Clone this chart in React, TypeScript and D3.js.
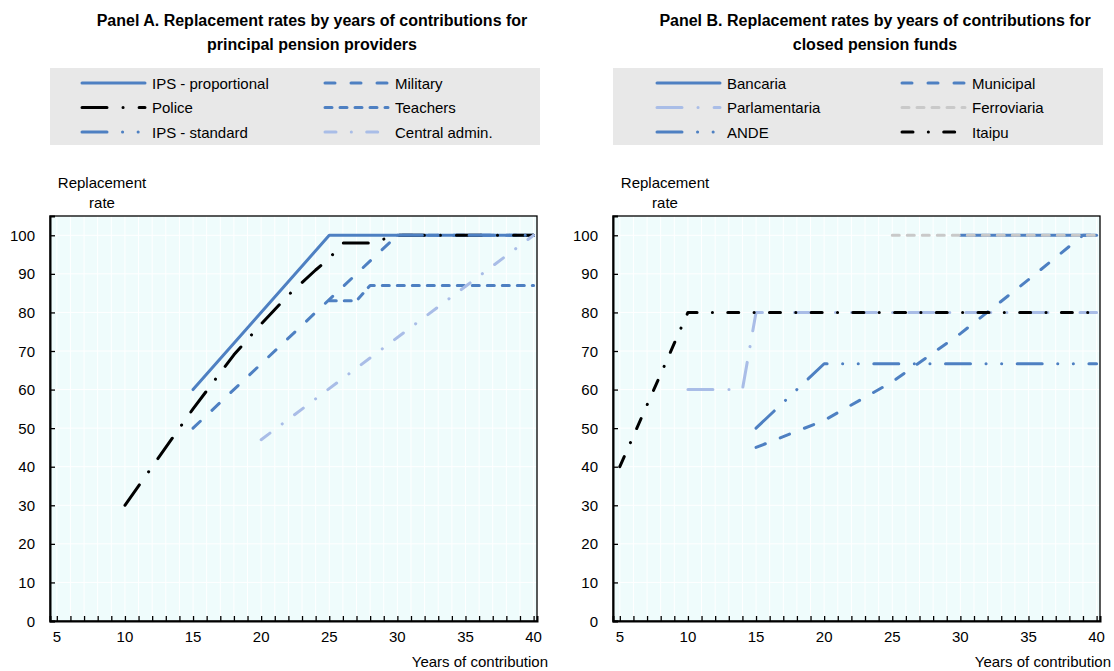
import React, { createRef, Component } from 'react';
import * as d3 from 'd3';

// Panel A - principal pension providers, [years of contribution, replacement rate]
const ipsProportional = [[15, 60], [25, 100], [40, 100]];
const military = [[15, 50], [30, 100], [40, 100]];
const police = [[10, 30], [15, 55], [18, 69], [20, 77], [22, 84.5], [24, 91], [25, 94], [26, 98], [28, 98], [30, 100], [40, 100]];
const teachers = [[25, 83], [27, 83], [28, 87], [40, 87]];
const ipsStandard = [[30, 100], [35, 100], [40, 100]];
const centralAdmin = [[20, 47], [40, 100]];

// Panel B - closed pension funds
const bancaria = [[30, 100], [40, 100]];
const municipal = [[15, 45], [20, 52], [25, 62], [30, 74.5], [35, 88.5], [39, 100], [40, 100]];
const parlamentaria = [[10, 60], [14, 60], [15, 80], [40, 80]];
const ferroviaria = [[25, 100], [40, 100]];
const ande = [[15, 50], [20, 66.7], [40, 66.7]];
const itaipu = [[5, 40], [10, 80], [40, 80]];

const yearTicks = [5, 10, 15, 20, 25, 30, 35, 40];
const rateTicks = [0, 10, 20, 30, 40, 50, 60, 70, 80, 90, 100];

const titleA = ['Panel A. Replacement rates by years of contributions for', 'principal pension providers'];
const titleB = ['Panel B. Replacement rates by years of contributions for', 'closed pension funds'];

// colours and dash patterns (line width 3, round caps)
const BLUE = '#4e80c2';
const LIGHT = '#a9bde7';
const GREY = '#c9c9c9';
const SOLID = null;
const LONG_DASH = '10,16';
const SHORT_DASH = '7,8';
const LONG_DASH_DOT = '25,16,0.1,16';
const DASH_DOT = '11,15.3,0.1,15.3';
const LONG_DASH_DOT_DOT = '25,15.5,0.1,15.5,0.1,15.5';

const FONT = '"Liberation Sans", Arial, sans-serif';

class App extends Component {
    ref = createRef<SVGSVGElement>();

    componentDidMount() {
        this.draw();
    }

    drawPanel(svg, left, title, series, legendCols) {
        var width = 487;
        var top = 216;
        var bottom = 621;

        var x = d3.scaleLinear().domain([4.5, 40.25]).range([left, left + width]);
        var y = d3.scaleLinear().domain([0, 105]).range([bottom, top]);

        var g = svg.append('g').style('font-family', FONT).style('font-size', '15px');

        // title
        var t = g.append('text')
            .attr('x', left + 262)
            .attr('text-anchor', 'middle')
            .style('font-weight', 'bold')
            .style('font-size', '16px');
        title.forEach((line, i) => {
            t.append('tspan').attr('x', left + 262).attr('y', 26 + i * 24).text(line);
        });

        // legend box
        g.append('rect')
            .attr('x', left).attr('y', 68)
            .attr('width', 490).attr('height', 77)
            .attr('fill', '#e8e8e8');
        series.forEach((s, i) => {
            var col = i % 2;
            var row = Math.floor(i / 2);
            var lx = left + legendCols[col];
            var ly = 83 + row * 24.5;
            g.append('line')
                .attr('x1', lx).attr('x2', lx + 63)
                .attr('y1', ly).attr('y2', ly)
                .attr('stroke', s.color)
                .attr('stroke-width', 3)
                .attr('stroke-linecap', 'round')
                .attr('stroke-dasharray', s.dash);
            g.append('text')
                .attr('x', lx + 70).attr('y', ly + 5.5)
                .text(s.name);
        });

        // plot background + grid
        g.append('rect')
            .attr('x', left).attr('y', top)
            .attr('width', width).attr('height', bottom - top)
            .attr('fill', '#effcfc');
        var years = d3.range(5, 41);
        g.selectAll('.vgrid').data(years).enter().append('line')
            .attr('x1', d => x(d)).attr('x2', d => x(d))
            .attr('y1', top).attr('y2', bottom)
            .attr('stroke', '#ffffff').attr('stroke-width', 1);
        g.selectAll('.hgrid').data(rateTicks.slice(1)).enter().append('line')
            .attr('x1', left).attr('x2', left + width)
            .attr('y1', d => y(d)).attr('y2', d => y(d))
            .attr('stroke', '#ffffff').attr('stroke-width', 1);

        // lines
        var line = d3.line().x(d => x(d[0])).y(d => y(d[1]));
        series.forEach(s => {
            g.append('path')
                .attr('d', line(s.data))
                .attr('fill', 'none')
                .attr('stroke', s.color)
                .attr('stroke-width', 3)
                .attr('stroke-linecap', 'round')
                .attr('stroke-linejoin', 'round')
                .attr('stroke-dasharray', s.dash);
        });

        // frame
        g.append('rect')
            .attr('x', left).attr('y', top)
            .attr('width', width).attr('height', bottom - top)
            .attr('fill', 'none').attr('stroke', '#000').attr('stroke-width', 1.3);

        // axes
        var xAxis = d3.axisBottom(x).tickValues(years).tickSize(-5).tickFormat(() => '');
        g.append('g').attr('transform', 'translate(0,' + bottom + ')').call(xAxis)
            .call(a => a.select('.domain').attr('stroke-width', 2))
            .call(a => a.selectAll('.tick line').attr('stroke-width', 1.3));
        g.selectAll('.xlab').data(yearTicks).enter().append('text')
            .attr('x', d => x(d)).attr('y', 642)
            .attr('text-anchor', 'middle')
            .text(d => d);

        var yAxis = d3.axisLeft(y).tickValues(rateTicks).tickSize(-5).tickFormat(() => '');
        g.append('g').attr('transform', 'translate(' + left + ',0)').call(yAxis)
            .call(a => a.select('.domain').attr('stroke-width', 2))
            .call(a => a.selectAll('.tick line').attr('stroke-width', 1.3));
        g.selectAll('.ylab').data(rateTicks).enter().append('text')
            .attr('x', left - 15).attr('y', d => y(d) + 5.5)
            .attr('text-anchor', 'end')
            .text(d => d);

        // axis titles
        g.append('text').attr('x', left + 52).attr('y', 188).attr('text-anchor', 'middle').text('Replacement');
        g.append('text').attr('x', left + 52).attr('y', 208).attr('text-anchor', 'middle').text('rate');
        g.append('text').attr('x', left + width + 11).attr('y', 667).attr('text-anchor', 'end').text('Years of contribution');
    }

    draw() {
        var svg = d3.select(this.ref.current);
        svg.selectAll('*').remove();

        var seriesA = [
            { name: 'IPS - proportional', data: ipsProportional, color: BLUE, dash: SOLID },
            { name: 'Military', data: military, color: BLUE, dash: LONG_DASH },
            { name: 'Police', data: police, color: '#000000', dash: LONG_DASH_DOT },
            { name: 'Teachers', data: teachers, color: BLUE, dash: SHORT_DASH },
            { name: 'IPS - standard', data: ipsStandard, color: BLUE, dash: LONG_DASH_DOT_DOT },
            { name: 'Central admin.', data: centralAdmin, color: LIGHT, dash: DASH_DOT },
        ];
        this.drawPanel(svg, 50, titleA, seriesA, [32, 275]);

        var seriesB = [
            { name: 'Bancaria', data: bancaria, color: BLUE, dash: SOLID },
            { name: 'Municipal', data: municipal, color: BLUE, dash: LONG_DASH },
            { name: 'Parlamentaria', data: parlamentaria, color: LIGHT, dash: LONG_DASH_DOT },
            { name: 'Ferroviaria', data: ferroviaria, color: GREY, dash: SHORT_DASH },
            { name: 'ANDE', data: ande, color: BLUE, dash: LONG_DASH_DOT_DOT },
            { name: 'Itaipu', data: itaipu, color: '#000000', dash: DASH_DOT },
        ];
        this.drawPanel(svg, 613, titleB, seriesB, [44, 289]);
    }

    render() {
        return (
            <svg
                ref={this.ref}
                width={1114}
                height={671}
                style={{ position: 'absolute', left: 0, top: 0, background: '#ffffff' }}
            />
        );
    }
}

export default App;
